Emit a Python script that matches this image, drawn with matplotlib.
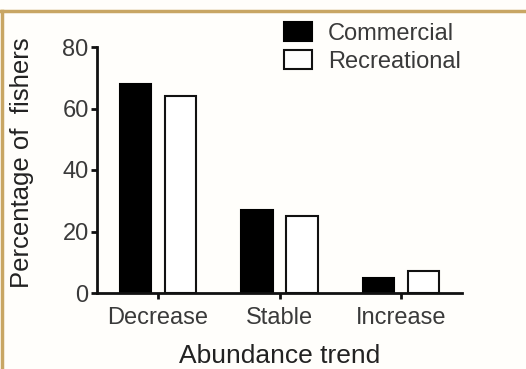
import numpy as np
import matplotlib
matplotlib.use('Agg')
import matplotlib.pyplot as plt
from matplotlib.lines import Line2D
from matplotlib.patches import Patch

plt.rcParams['font.family'] = ['Liberation Sans', 'DejaVu Sans']

# ---------------------------------------------------------------------------
# Data
# ---------------------------------------------------------------------------
trends       = ['Decrease', 'Stable', 'Increase']
commercial   = [68, 27, 5]
recreational = [64, 25, 7]

x = np.arange(len(trends))
W = 0.255
OFF = 0.185

fig = plt.figure(figsize=(5.26, 3.69), dpi=100)
fig.patch.set_facecolor('#fffefb')
ax = fig.add_axes([97 / 526, 1 - 293 / 369, (462 - 97) / 526, (293 - 47) / 369])
ax.set_facecolor('none')

ax.bar(x - OFF, commercial, W, color='black', edgecolor='black', lw=1.5)
ax.bar(x + OFF, recreational, W, color='white', edgecolor='#111111', lw=1.5)

ax.set_xlim(-0.5, 2.5)
ax.set_ylim(0, 80)
ax.set_yticks([0, 20, 40, 60, 80])
ax.set_xticks(x)
ax.set_xticklabels(trends)
for s in ['top', 'right']:
    ax.spines[s].set_visible(False)
for s in ['left', 'bottom']:
    ax.spines[s].set_linewidth(2)
    ax.spines[s].set_color('#111111')
ax.tick_params(axis='both', width=2, length=4, labelsize=17, colors='#111111',
               labelcolor='#3a3a3a', pad=2)
ax.tick_params(axis='x', pad=6)

ax.set_xlabel('Abundance trend', fontsize=19, color='#222222', labelpad=11)
ax.set_ylabel('Percentage of  fishers', fontsize=18.5, color='#222222')
ax.yaxis.set_label_coords(-0.173, 0.528)

handles = [Patch(facecolor='black', edgecolor='black', lw=1.5),
           Patch(facecolor='white', edgecolor='#111111', lw=1.5)]
fig.legend(handles, ['Commercial', 'Recreational'], loc='upper left',
           bbox_to_anchor=(284 / 526, 1 - 22 / 369), frameon=False,
           fontsize=17, handlelength=1.2, handleheight=0.85, handletextpad=0.65,
           labelspacing=0.25, borderaxespad=0, borderpad=0,
           labelcolor='#3a3a3a')

# gold page frame (top and left)
fig.add_artist(Line2D([0, 1], [1 - 10.5 / 369] * 2, transform=fig.transFigure,
                      color='#c8a664', lw=2.5))
fig.add_artist(Line2D([2 / 526] * 2, [0, 1 - 10.5 / 369], transform=fig.transFigure,
                      color='#c8a664', lw=2.5))

fig.savefig('out.png', dpi=100, facecolor=fig.get_facecolor())
